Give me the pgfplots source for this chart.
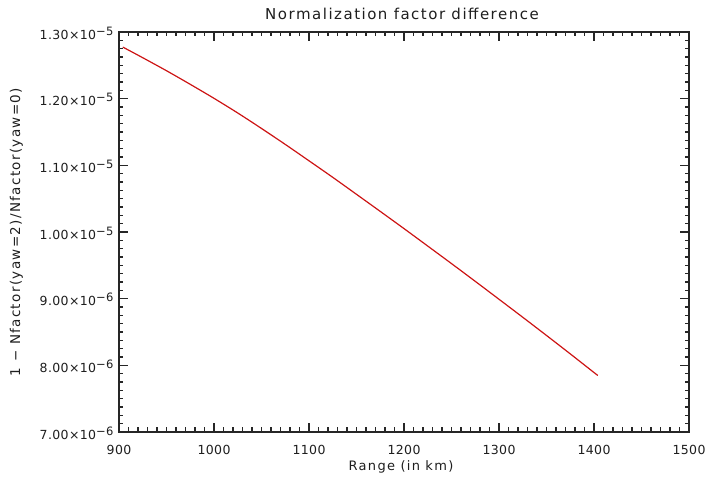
\documentclass[border=0pt]{standalone}
\usepackage{fontspec}
\setmainfont{DejaVu Sans}
\usepackage{pgfplots}
\pgfplotsset{compat=1.18}
\definecolor{curve}{RGB}{205,20,20}
\definecolor{txt}{RGB}{30,30,30}
\newcommand{\sci}[2]{#1×10\raisebox{0.6ex}{\fontsize{11.5}{11.5}\selectfont −#2}}
\begin{document}
\begin{tikzpicture}
\begin{axis}[name=ax, at={(0,0)}, anchor=south west,
  scale only axis, width=570pt, height=400pt,
  xmin=900, xmax=1500, ymin=7e-6, ymax=1.3e-5,
  scaled y ticks=false,
  xtick={900,1000,1100,1200,1300,1400,1500},
  xticklabels={900,1000,1100,1200,1300,1400,1500},
  minor x tick num=9,
  ytick={7e-6,8e-6,9e-6,1e-5,1.1e-5,1.2e-5,1.3e-5},
  yticklabels={\sci{7.00}{6},\sci{8.00}{6},\sci{9.00}{6},\sci{1.00}{5},\sci{1.10}{5},\sci{1.20}{5},\sci{1.30}{5}},
  minor y tick num=7,
  tick align=inside,
  major tick length=9pt, minor tick length=4.5pt,
  axis line style={line width=1.3pt, black!85},
  every tick/.style={line width=1.1pt, black!85},
  ticklabel style={font=\fontsize{12.5}{13}\selectfont\addfontfeature{LetterSpace=3}, text=txt},
  xticklabel style={yshift=-10pt},
  yticklabel style={xshift=-2pt, yshift=-1pt},
  title={Normalization factor difference},
  title style={font=\fontsize{15}{16}\selectfont\addfontfeature{LetterSpace=10}, text=txt, at={(axis description cs:0.5,1)}, anchor=center, yshift=12pt, xshift=-2pt},
  xlabel={Range (in km)},
  xlabel style={font=\fontsize{13}{14}\selectfont\addfontfeature{LetterSpace=10}, text=txt, at={(axis description cs:0.5,0)}, anchor=center, yshift=-35pt, xshift=-3pt},
  ylabel={1  −  Nfactor(yaw=2)/Nfactor(yaw=0)},
  ylabel style={font=\fontsize{13.5}{14}\selectfont\addfontfeature{LetterSpace=10}, text=txt, at={(axis description cs:-0.18,0.5)}, anchor=center},
  clip=false,
]
\addplot[curve, line width=1.2pt, smooth] table {
x y
904 12.774e-6
925 12.614e-6
950 12.419e-6
975 12.215e-6
1000 12.005e-6
1025 11.785e-6
1050 11.553e-6
1075 11.314e-6
1100 11.068e-6
1125 10.820e-6
1150 10.565e-6
1175 10.309e-6
1200 10.051e-6
1225 9.789e-6
1250 9.526e-6
1275 9.260e-6
1300 8.991e-6
1325 8.721e-6
1350 8.448e-6
1375 8.172e-6
1400 7.892e-6
1404 7.848e-6
};
\end{axis}
\pgfresetboundingbox
\path ([shift={(-119pt,-46pt)}]ax.south west) rectangle ([shift={(17pt,32pt)}]ax.north east);
\end{tikzpicture}
\end{document}
